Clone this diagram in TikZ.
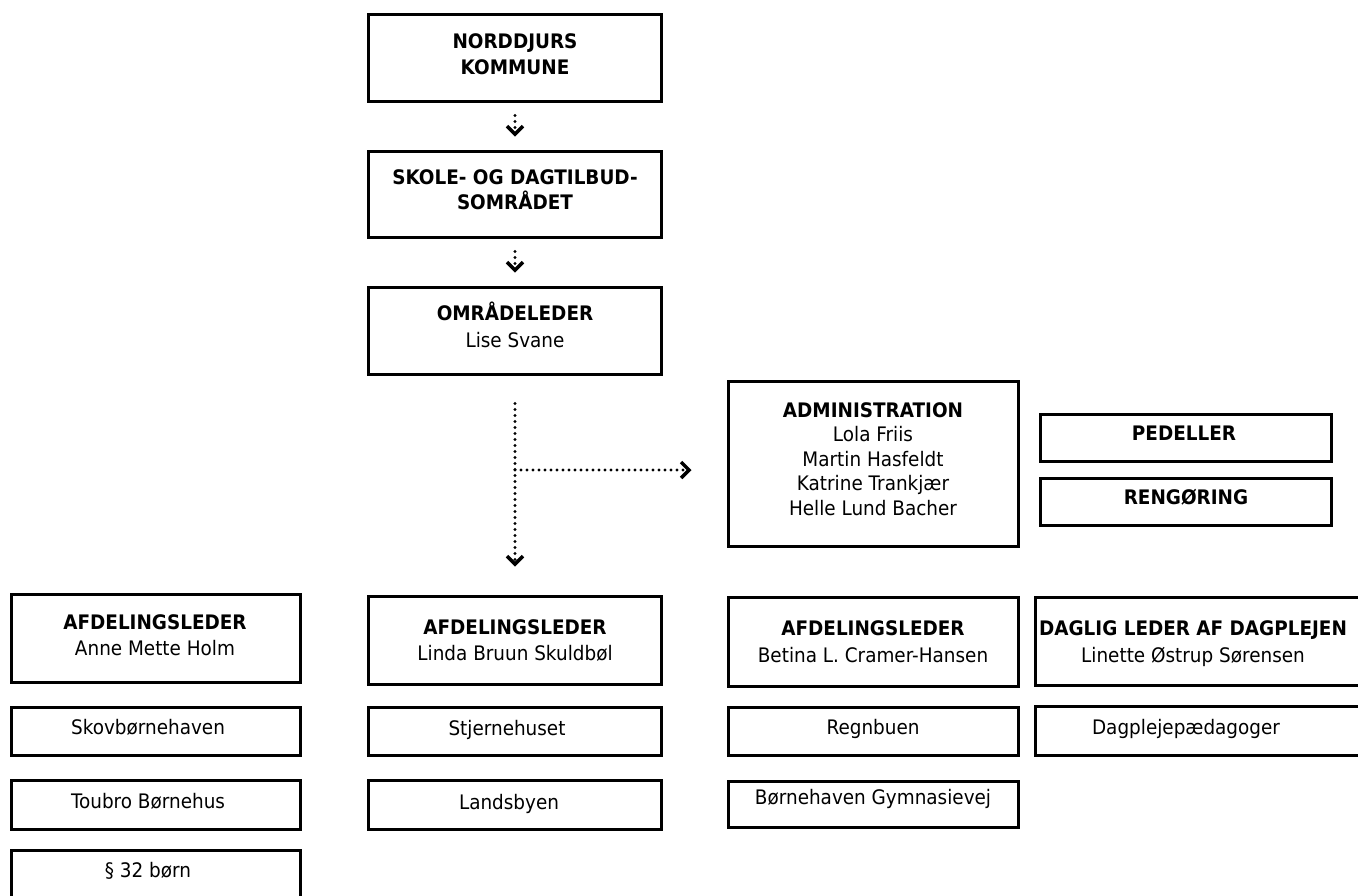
\documentclass[tikz,border=0pt]{standalone}
\usepackage{fontspec}
\setmainfont{DejaVu Sans}[FakeStretch=0.92]
\usetikzlibrary{arrows.meta,calc}
\begin{document}
\begin{tikzpicture}[x=1pt,y=-1pt,
  box/.style={draw=black, line width=3pt, inner sep=0pt},
  lbl/.style={anchor=base, inner sep=0pt, font=\fontsize{20}{25}\selectfont},
  hd/.style={anchor=base, inner sep=0pt, font=\fontsize{20}{25}\selectfont\bfseries},
  conn/.style={line width=3.3pt, dash pattern=on 0pt off 6pt, line cap=round,
    -{Straight Barb[length=8pt,width=16pt,line width=3.4pt]}}
]
\useasboundingbox (0,0) rectangle (1358,895);
\fill[white] (0,0) rectangle (1358,895);

% top column
\node[box, minimum width=293pt, minimum height=87pt] (nord) at (515,58) {};
\node[hd] (nordA) at (515,48.3) {NORDDJURS};
\node[hd] (nordB) at (515,74.3) {KOMMUNE};

\node[box, minimum width=293pt, minimum height=86pt] (skole) at (515,194.5) {};
\node[hd] (skoleA) at (515,184.3) {SKOLE- OG DAGTILBUD-};
\node[hd] (skoleB) at (515,209.3) {SOMRÅDET};

\node[box, minimum width=293pt, minimum height=87pt] (omr) at (515,331) {};
\node[hd] (omrA) at (515,320.3) {OMRÅDELEDER};
\node[lbl] (omrB) at (515,347.3) {Lise Svane};

% administration
\node[box, minimum width=290pt, minimum height=165pt] (admin) at (873.5,464) {};
\node[hd] (adminA) at (873,417.3) {ADMINISTRATION};
\node[lbl] (adminB) at (873,441.8) {Lola Friis};
\node[lbl] (adminC) at (873,466.3) {Martin Hasfeldt};
\node[lbl] (adminD) at (873,490.8) {Katrine Trankjær};
\node[lbl] (adminE) at (873,515.3) {Helle Lund Bacher};

\node[box, minimum width=291pt, minimum height=47pt] (pedel) at (1186,438) {};
\node[hd] (pedelT) at (1184,440.3) {PEDELLER};
\node[box, minimum width=291pt, minimum height=47pt] (reng) at (1186,502) {};
\node[hd] (rengT) at (1186,504.3) {RENGØRING};

% column 1
\node[box, minimum width=289pt, minimum height=88pt] (anne) at (156,638.5) {};
\node[hd] (anneA) at (155,629.3) {AFDELINGSLEDER};
\node[lbl] (anneB) at (155,655.3) {Anne Mette Holm};
\node[box, minimum width=289pt, minimum height=48pt] (skov) at (156,731.5) {};
\node[lbl] (skovT) at (148,734.3) {Skovbørnehaven};
\node[box, minimum width=289pt, minimum height=49pt] (toubro) at (156,805) {};
\node[lbl] (toubroT) at (148,808.3) {Toubro Børnehus};
\node[box, minimum width=289pt, minimum height=88pt] (par) at (156,894.5) {};
\node[lbl] (parT) at (148,877.3) {§ 32 børn};

% column 2
\node[box, minimum width=293pt, minimum height=88pt] (linda) at (515,640.5) {};
\node[hd] (lindaA) at (515,634.3) {AFDELINGSLEDER};
\node[lbl] (lindaB) at (515,660.3) {Linda Bruun Skuldbøl};
\node[box, minimum width=293pt, minimum height=48pt] (stjerne) at (515,731.5) {};
\node[lbl] (stjerneT) at (507,735.3) {Stjernehuset};
\node[box, minimum width=293pt, minimum height=49pt] (lands) at (515,805) {};
\node[lbl] (landsT) at (509,809.3) {Landsbyen};

% column 3
\node[box, minimum width=290pt, minimum height=89pt] (betina) at (873.5,642) {};
\node[hd] (betinaA) at (873,635.3) {AFDELINGSLEDER};
\node[lbl] (betinaB) at (873,662.3) {Betina L. Cramer-Hansen};
\node[box, minimum width=290pt, minimum height=48pt] (regn) at (873.5,731.5) {};
\node[lbl] (regnT) at (873,734.3) {Regnbuen};
\node[box, minimum width=290pt, minimum height=46pt] (bgym) at (873.5,804.5) {};
\node[lbl] (bgymT) at (873,804.3) {Børnehaven Gymnasievej};

% column 4
\node[box, minimum width=325pt, minimum height=88pt] (daglig) at (1198,641.5) {};
\node[hd] (dagligA) at (1193,635.3) {DAGLIG LEDER AF DAGPLEJEN};
\node[lbl] (dagligB) at (1193,662.3) {Linette Østrup Sørensen};
\node[box, minimum width=325pt, minimum height=49pt] (dagpl) at (1198,731) {};
\node[lbl] (dagplT) at (1186,734.3) {Dagplejepædagoger};

% connectors
\draw[conn] ([yshift=-12.5pt]nord.south) -- ([yshift=13.5pt]skole.north);
\draw[conn] ([yshift=-12.5pt]skole.south) -- ([yshift=13.5pt]omr.north);
\coordinate (j) at (515,470);
\draw[conn] ([yshift=-27.5pt]omr.south) -- ([yshift=28.5pt]linda.north);
\draw[conn] (j) -- ($(admin.west |- j)+(-35.5,0)$);
\end{tikzpicture}
\end{document}
